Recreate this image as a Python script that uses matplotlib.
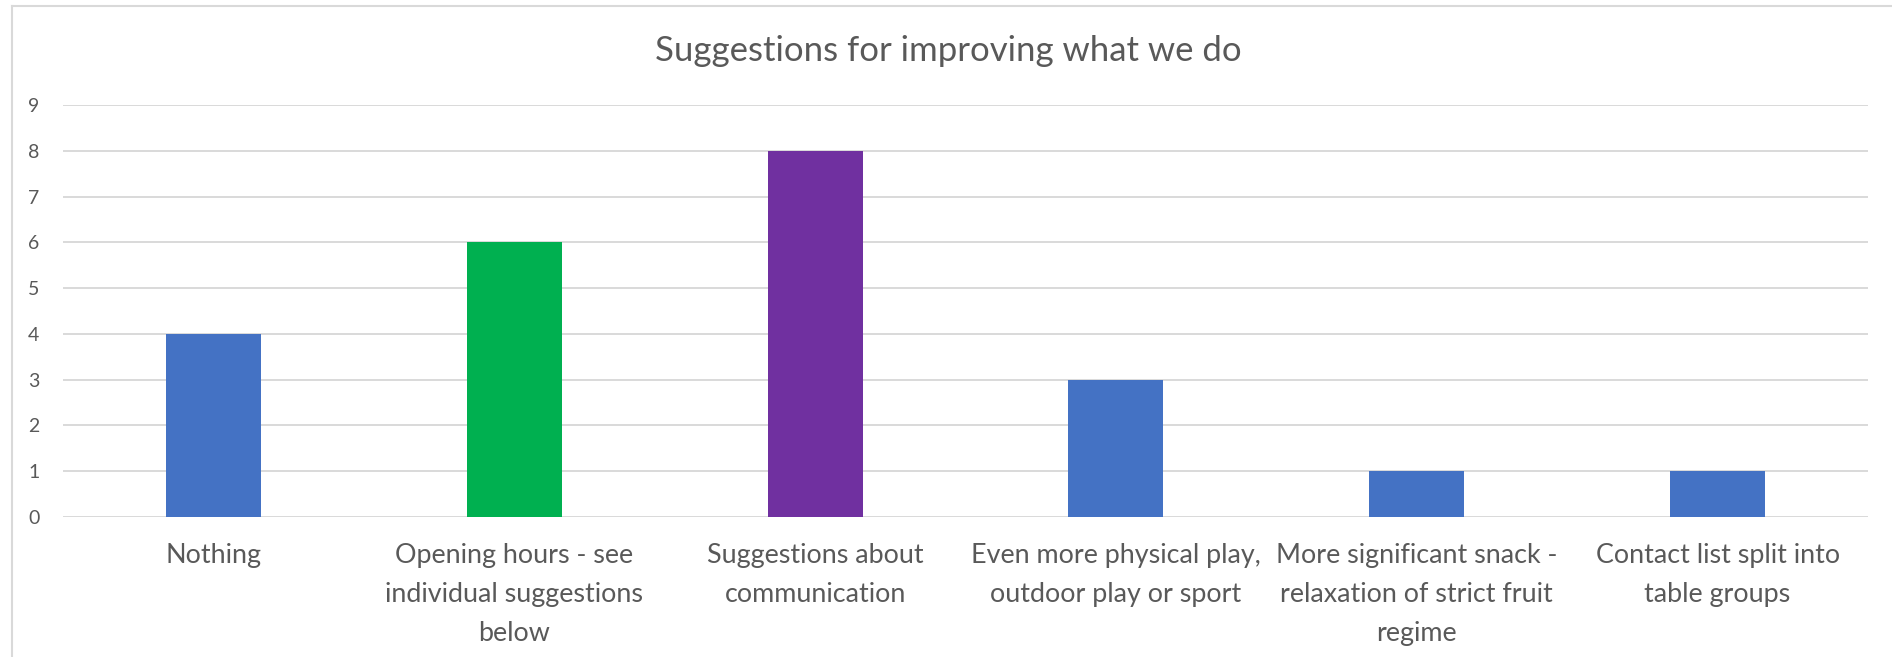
import matplotlib
matplotlib.use("Agg")
import matplotlib.pyplot as plt
from matplotlib.lines import Line2D

categories = [
    "Nothing",
    "Opening hours - see\nindividual suggestions\nbelow",
    "Suggestions about\ncommunication",
    "Even more physical play,\noutdoor play or sport",
    "More significant snack -\nrelaxation of strict fruit\nregime",
    "Contact list split into\ntable groups",
]
counts = [4, 6, 8, 3, 1, 1]
bar_colors = ["#4472C4", "#00B050", "#7030A0", "#4472C4", "#4472C4", "#4472C4"]
y_ticks = list(range(0, 10))

plt.rcParams['font.family'] = ['Lato', 'DejaVu Sans']
text_color = '#595959'
grid_color = '#d9d9d9'

W, H = 1892, 657
fig = plt.figure(figsize=(W / 100, H / 100), dpi=100)
ax = fig.add_axes([63 / W, 1 - 517 / H, (1868 - 63) / W, (517 - 105) / H])

x = range(len(categories))
ax.bar(x, counts, width=0.316, color=bar_colors, zorder=3)

ax.set_xlim(-0.5, len(categories) - 0.5)
ax.set_ylim(0, 9)
ax.set_yticks(y_ticks)
ax.set_xticks(list(x))
ax.set_xticklabels(categories, fontsize=19.4, color=text_color, linespacing=1.7)
ax.tick_params(axis='y', labelsize=14, labelcolor=text_color, length=0, pad=17)
ax.tick_params(axis='x', length=0, pad=19)
ax.yaxis.grid(True, color=grid_color, linewidth=1.4, zorder=0)
for s in ax.spines.values():
    s.set_visible(False)

fig.text(948 / W, 1 - 51 / H, "Suggestions for improving what we do",
         ha='center', va='center', fontsize=25, color=text_color)

# chart frame (left and top edges visible)
fig.add_artist(Line2D([11.5 / W, 11.5 / W], [0, 1 - 6 / H], color=grid_color, linewidth=1.5, transform=fig.transFigure))
fig.add_artist(Line2D([11.5 / W, 1], [1 - 6 / H, 1 - 6 / H], color=grid_color, linewidth=1.5, transform=fig.transFigure))

fig.savefig("out.png", dpi=100, facecolor='white')
